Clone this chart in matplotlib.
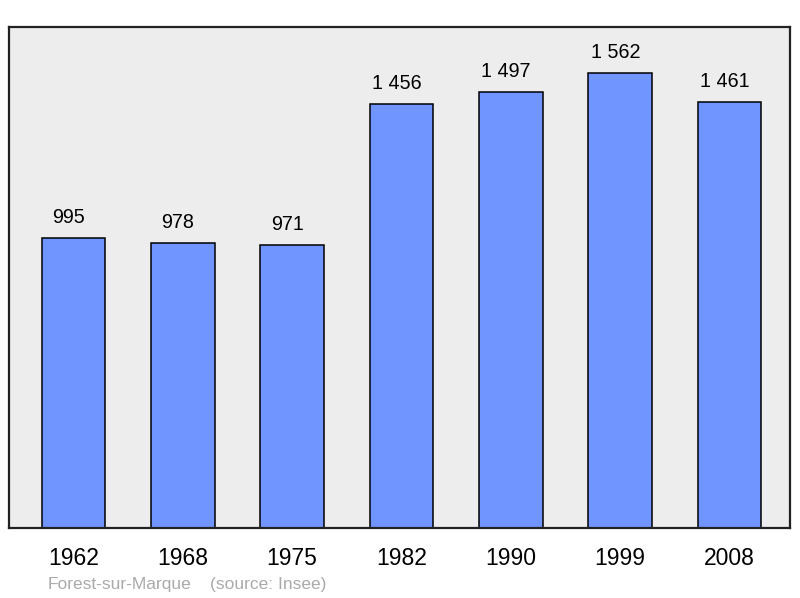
import matplotlib.pyplot as plt

plt.rcParams['font.family'] = ['Liberation Sans', 'DejaVu Sans']

# Population data
years = ['1962', '1968', '1975', '1982', '1990', '1999', '2008']
population = [995, 978, 971, 1456, 1497, 1562, 1461]
value_labels = ['995', '978', '971', '1 456', '1 497', '1 562', '1 461']

fig = plt.figure(figsize=(8, 5.98), dpi=100)
ax = fig.add_axes([9 / 800, 70 / 598, 781 / 800, 501 / 598])
ax.set_facecolor('#ededed')

x = list(range(len(years)))
bars = ax.bar(x, population, width=0.58, color='#7095ff', edgecolor='black',
              linewidth=1.1, zorder=2)

# Value labels above bars
for xi, val, lab in zip(x, population, value_labels):
    ax.annotate(lab, xy=(xi, val), xytext=(-3.5, 15), textcoords='offset points',
                ha='center', va='center', fontsize=14.2, color='black')

ax.set_xlim(-0.59, 6.553)
ax.set_ylim(0, 1720)
ax.set_xticks(x)
ax.set_xticklabels(years, fontsize=16.5)
ax.tick_params(axis='x', length=0, pad=14)
ax.set_yticks([])

for s in ax.spines.values():
    s.set_linewidth(1.6)
    s.set_color('#222222')

# Footer
fig.text(48 / 800, 1 - 584 / 598, 'Forest-sur-Marque', color='#aaaaaa',
         fontsize=12.5, va='center', ha='left')
fig.text(210 / 800, 1 - 584 / 598, '(source: Insee)', color='#aaaaaa',
         fontsize=12.5, va='center', ha='left')

fig.savefig('out.png', dpi=100)
